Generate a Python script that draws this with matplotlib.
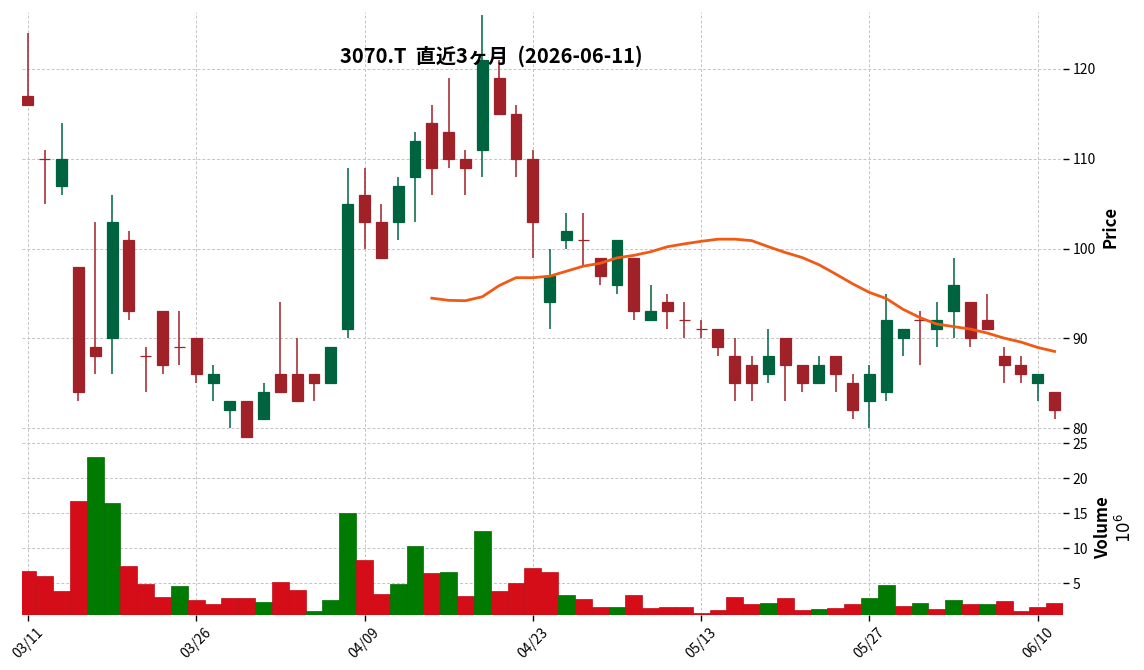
import matplotlib
matplotlib.use('Agg')
import matplotlib.pyplot as plt
import numpy as np
import pandas as pd

plt.rcParams['font.family'] = ['Noto Sans CJK JP', 'DejaVu Sans']

# ---------------- data ----------------
dates = ['2026-03-11', '2026-03-12', '2026-03-13', '2026-03-16', '2026-03-17', '2026-03-18',
         '2026-03-19', '2026-03-23', '2026-03-24', '2026-03-25', '2026-03-26', '2026-03-27',
         '2026-03-30', '2026-03-31', '2026-04-01', '2026-04-02', '2026-04-03', '2026-04-06',
         '2026-04-07', '2026-04-08', '2026-04-09', '2026-04-10', '2026-04-13', '2026-04-14',
         '2026-04-15', '2026-04-16', '2026-04-17', '2026-04-20', '2026-04-21', '2026-04-22',
         '2026-04-23', '2026-04-24', '2026-04-27', '2026-04-28', '2026-04-30', '2026-05-01',
         '2026-05-07', '2026-05-08', '2026-05-11', '2026-05-12', '2026-05-13', '2026-05-14',
         '2026-05-15', '2026-05-18', '2026-05-19', '2026-05-20', '2026-05-21', '2026-05-22',
         '2026-05-25', '2026-05-26', '2026-05-27', '2026-05-28', '2026-05-29', '2026-06-01',
         '2026-06-02', '2026-06-03', '2026-06-04', '2026-06-05', '2026-06-08', '2026-06-09',
         '2026-06-10', '2026-06-11']

opens = [117, 110, 107, 98, 89, 90, 101, 88, 93, 89, 90, 85, 82, 83, 81, 86, 86, 86, 85, 91,
         106, 103, 103, 108, 114, 113, 110, 111, 119, 115, 110, 94, 101, 101, 99, 96, 99, 92,
         94, 92, 91, 91, 88, 87, 86, 90, 87, 85, 88, 85, 83, 84, 90, 92, 91, 93, 94, 92, 88,
         87, 85, 84]
highs = [124, 111, 114, 98, 103, 106, 102, 89, 93, 93, 90, 87, 83, 83, 85, 94, 90, 86, 89, 109,
         109, 105, 108, 113, 116, 119, 111, 126, 121, 116, 111, 100, 104, 104, 99, 101, 99, 96,
         95, 94, 92, 91, 90, 88, 91, 90, 87, 88, 88, 86, 87, 95, 91, 93, 94, 99, 94, 95, 89,
         88, 86, 84]
lows = [116, 105, 106, 83, 86, 86, 92, 84, 86, 87, 85, 83, 80, 79, 81, 84, 83, 83, 85, 90,
        100, 99, 101, 103, 106, 109, 106, 108, 115, 108, 99, 91, 100, 98, 96, 95, 92, 92,
        91, 90, 90, 88, 83, 83, 85, 83, 84, 85, 84, 81, 80, 83, 88, 87, 89, 90, 89, 91, 85,
        85, 83, 81]
closes = [116, 110, 110, 84, 88, 103, 93, 88, 87, 89, 86, 86, 83, 79, 84, 84, 83, 85, 89, 105,
          103, 99, 107, 112, 109, 110, 109, 121, 115, 110, 103, 97, 102, 101, 97, 101, 93, 93,
          93, 92, 91, 89, 85, 85, 88, 87, 85, 87, 86, 82, 86, 92, 91, 92, 92, 96, 90, 91, 87,
          86, 86, 82]
volumes_m = [6.79, 6.06, 3.89, 16.79, 23.0, 16.5, 7.51, 4.9, 3.02, 4.61,
             2.58, 2.0, 2.87, 2.87, 2.29, 5.19, 4.03, 0.99, 2.58, 15.05,
             8.38, 3.45, 4.95, 10.27, 6.5, 6.64, 3.16, 12.44, 3.89, 5.05,
             7.22, 6.64, 3.31, 2.73, 1.57, 1.57, 3.31, 1.43, 1.57, 1.57,
             0.70, 1.14, 3.02, 2.0, 2.15, 2.87, 1.14, 1.28, 1.43, 2.0,
             2.87, 4.76, 1.71, 2.15, 1.28, 2.58, 2.0, 2.0, 2.44, 0.99,
             1.57, 2.15]
ma_window = 25
tick_every = 10
title = '3070.T  直近3ヶ月  (2026-06-11)'

# ---------------- styles ----------------
UP = '#006340'
DOWN = '#A02128'
VUP = '#007a00'
VDOWN = '#d50d18'
MA_COLOR = '#f05a14'
GRID = dict(color='#c4c4c4', linestyle=(0, (3, 2)), linewidth=0.7)

df = pd.DataFrame({'Open': opens, 'High': highs, 'Low': lows, 'Close': closes,
                   'Volume': volumes_m}, index=pd.to_datetime(dates))
x = np.arange(len(df))
o = df['Open'].values
h = df['High'].values
l = df['Low'].values
c = df['Close'].values
up = c > o
ccol = np.where(up, UP, DOWN)
prev_close = df['Close'].shift(1).values
vup = c > prev_close
vcol = np.where(vup, VUP, VDOWN)
vedge = np.where(vup, '#006e00', '#c00c16')
ma = df['Close'].rolling(ma_window).mean().values

fig = plt.figure(figsize=(11.44, 6.70), dpi=100)
left, width = 22 / 1144, (1063 - 22) / 1144
ax = fig.add_axes([left, 1 - 441 / 670, width, (441 - 12) / 670])
axv = fig.add_axes([left, 1 - 615 / 670, width, (615 - 441) / 670], sharex=ax)

for a in (ax, axv):
    a.set_axisbelow(True)
    a.grid(True, **GRID)
    for s in a.spines.values():
        s.set_visible(False)
    a.yaxis.tick_right()
    a.yaxis.set_label_position('right')
    a.tick_params(axis='y', labelsize=10, length=4, width=1, pad=3)
    a.tick_params(axis='x', length=4, width=1)

# wicks
ax.vlines(x, l, h, colors=ccol, linewidth=1.1, zorder=2)
# bodies
bottoms = np.minimum(o, c)
heights = np.abs(c - o)
ax.bar(x, heights, bottom=bottoms, width=0.65, color=ccol, edgecolor=ccol,
       linewidth=0.9, zorder=3)
# moving average
ax.plot(x, ma, color=MA_COLOR, linewidth=2.0, zorder=4)

ax.set_ylim(78.6, 126.3)
ax.set_yticks([80, 90, 100, 110, 120])
ax.set_ylabel('Price', fontsize=12, fontweight='bold', labelpad=4)
ax.tick_params(axis='x', labelbottom=False, length=0)

# volume
axv.bar(x, df['Volume'].values, width=1.0, color=vcol, edgecolor=vedge, linewidth=0.5, zorder=3)
axv.set_ylim(0.45, 25.35)
axv.set_yticks([5, 10, 15, 20, 25])
axv.set_ylabel('Volume\n$10^{6}$', fontsize=12, fontweight='bold', labelpad=4)

ticks = x[::tick_every]
axv.set_xticks(ticks)
axv.set_xticklabels([d.strftime('%m/%d') for d in df.index[ticks]], rotation=45,
                    ha='center', fontsize=10)
axv.set_xlim(-0.35, len(df) - 0.5)

fig.text(491 / 1144, 1 - 56 / 670, title, ha='center', va='center', fontsize=14.5,
         fontweight='bold')

fig.savefig('out.png', dpi=100)
